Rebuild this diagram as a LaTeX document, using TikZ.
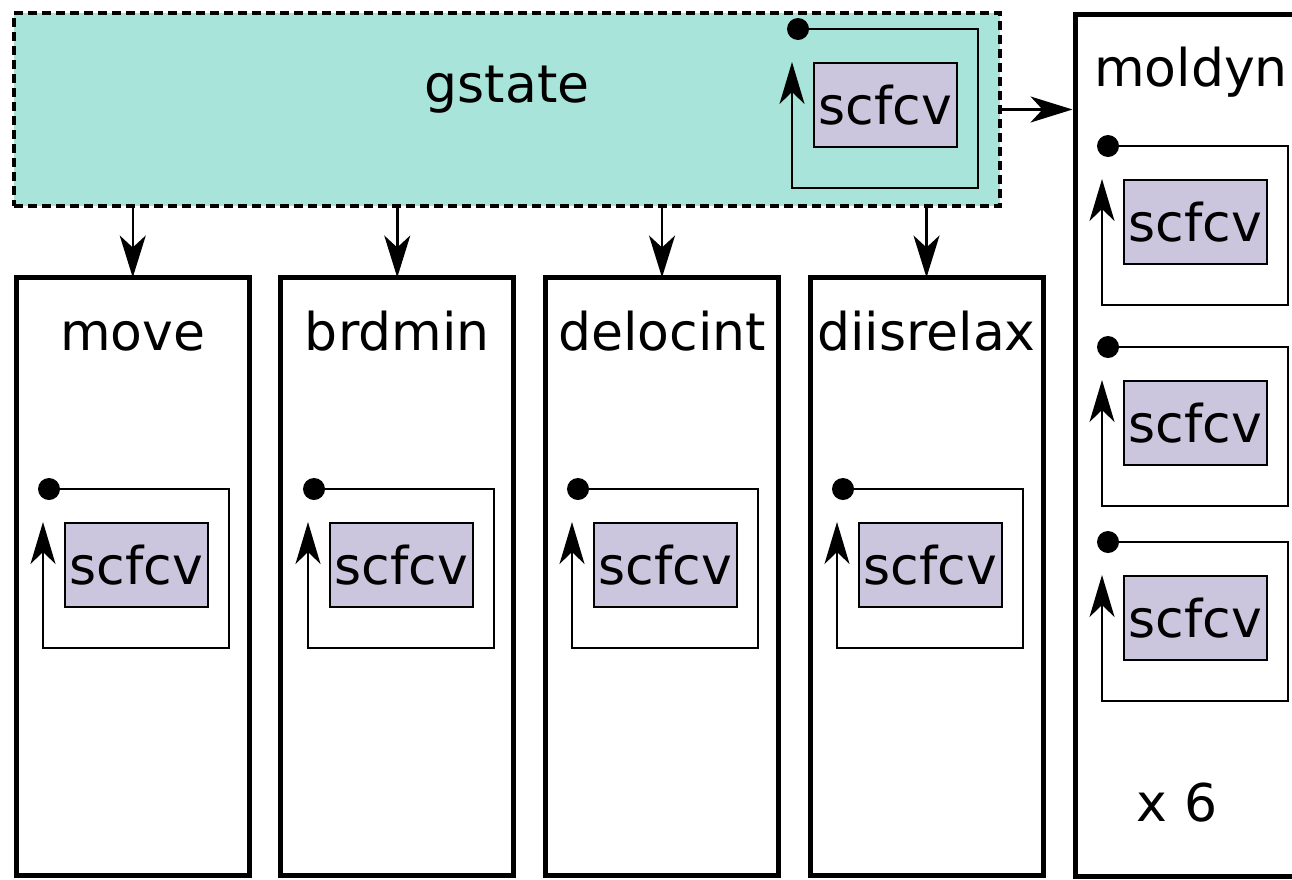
\documentclass[tikz,border=0pt]{standalone}
\usepackage{fontspec}
\setmainfont{DejaVu Sans}
\usetikzlibrary{arrows.meta}
\definecolor{gfill}{HTML}{A8E4DA}
\definecolor{sfill}{HTML}{CBC5DD}
\newcommand\bigfont{\fontsize{52}{62}\selectfont}
\tikzset{
  bigbox/.style={draw, line width=5pt, inner sep=0pt},
  gbox/.style={draw, line width=4pt, dash pattern=on 9pt off 5pt, fill=gfill, inner sep=0pt},
  scf/.style={draw, line width=2pt, fill=sfill, minimum width=143pt, minimum height=84pt, inner sep=0pt, font=\bigfont},
  lbl/.style={anchor=base, inner sep=0pt, font=\bigfont},
  dot/.style={circle, fill=black, minimum size=22pt, inner sep=0pt},
  loopline/.style={line width=2pt, -{Stealth[length=42pt, width=25pt, inset=12pt]}},
  conn/.style={line width=2.5pt, -{Stealth[length=42pt, width=26pt, inset=12pt]}},
}
% #1 name prefix, #2 left x of loop, #3 y of dot
\newcommand\scfloop[3]{%
  \node[scf] (#1s) at ({#2+93.5},{#3+76}) {scfcv};
  \node[dot] (#1d) at ({#2+6},#3) {};
  \coordinate (#1t) at (#2,{#3+33});
  \draw[loopline] (#1d.center) -- ({#2+186},#3) -- ({#2+186},{#3+159}) -- (#2,{#3+159}) -- (#1t);
}
\begin{document}
\begin{tikzpicture}[x=1pt,y=-1pt]
\clip (0,0) rectangle (1292,879);
% gstate
\node[gbox, minimum width=986pt, minimum height=193pt] (gstate) at (507,109.5) {};
\node[lbl] (gstatel) at (507,102) {gstate};
\scfloop{g}{792}{29}
% lower boxes
\node[bigbox, minimum width=233pt, minimum height=598pt] (move) at (132.75,576) {};
\node[bigbox, minimum width=233pt, minimum height=598pt] (brdmin) at (397.25,576) {};
\node[bigbox, minimum width=233pt, minimum height=598pt] (delocint) at (662,576) {};
\node[bigbox, minimum width=233pt, minimum height=598pt] (diisrelax) at (926.5,576) {};
\node[lbl] (movel) at (132.75,350) {move};
\node[lbl] (brdminl) at (397.25,350) {brdmin};
\node[lbl] (delocintl) at (662,350) {delocint};
\node[lbl] (diisrelaxl) at (926.5,350) {diisrelax};
\scfloop{a}{43}{489}
\scfloop{b}{308}{489}
\scfloop{c}{572}{489}
\scfloop{e}{837}{489}
% moldyn
\node[bigbox, minimum width=232pt, minimum height=862pt] (moldyn) at (1191,445) {};
\node[lbl] (moldynl) at (1191,86) {moldyn};
\node[lbl] (times) at (1177,821) {x 6};
\scfloop{m1}{1102}{146}
\scfloop{m2}{1102}{347}
\scfloop{m3}{1102}{542}
% connectors
\draw[conn] (gstate.south -| move.north) -- ([yshift=-3pt]move.north);
\draw[conn] (gstate.south -| brdmin.north) -- ([yshift=-3pt]brdmin.north);
\draw[conn] (gstate.south -| delocint.north) -- ([yshift=-3pt]delocint.north);
\draw[conn] (gstate.south -| diisrelax.north) -- ([yshift=-3pt]diisrelax.north);
\draw[conn] (gstate.east) -- (moldyn.west |- gstate.east);
\end{tikzpicture}
\end{document}
